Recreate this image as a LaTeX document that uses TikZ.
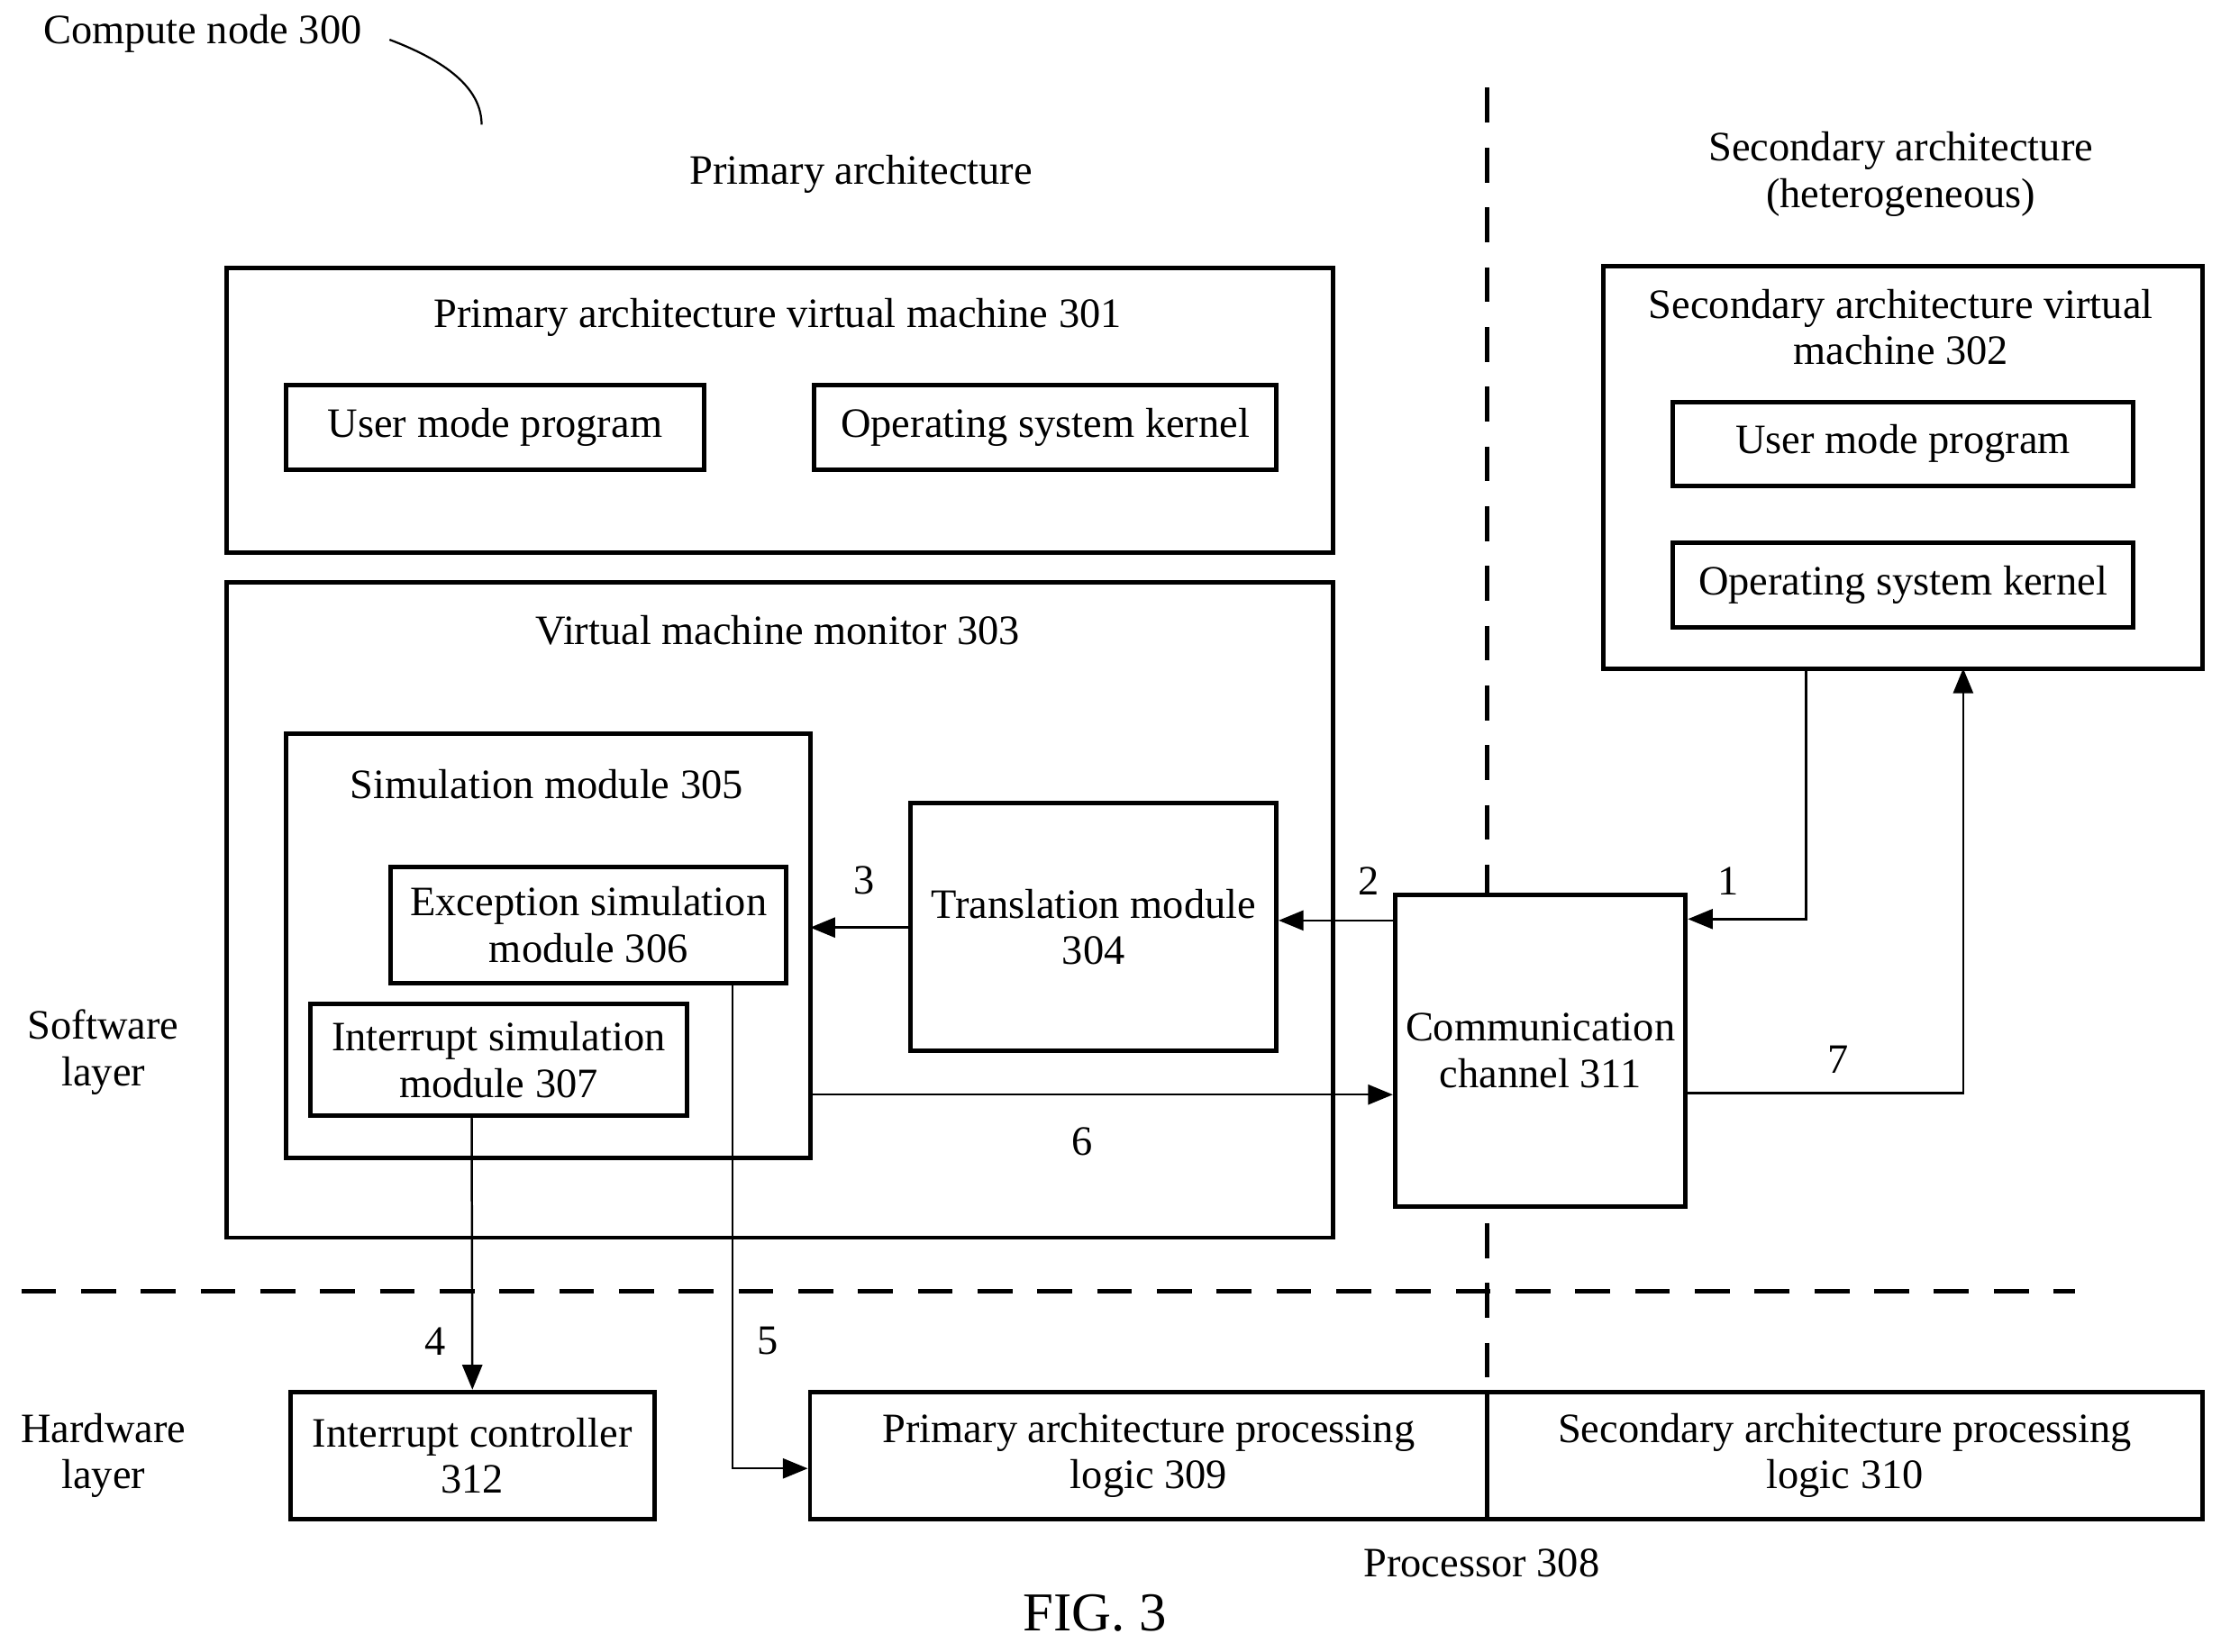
\documentclass[tikz,border=0pt]{standalone}
\usepackage{fontspec}
\setmainfont{Liberation Serif}
\usetikzlibrary{arrows.meta}
\begin{document}
\begin{tikzpicture}[x=0.01cm,y=-0.01cm,
  box/.style={draw,line width=0.9pt,fill=white},
  lab/.style={font=\fontsize{8.4}{9.3}\selectfont,align=center},
  con/.style={line width=0.45pt,-{Triangle[length=5pt,width=4pt]}},
  dashline/.style={line width=0.9pt,dash pattern=on 7pt off 5pt}]
\useasboundingbox (0,0) rectangle (1568,1166);
\node[lab] (cn) at (143,24) {Compute node 300};
\coordinate (c1) at (275,28); \coordinate (c2) at (340,88);
\draw[line width=0.4pt] (c1) .. controls (320,45) and (340,65) .. (c2);
\node[lab] (pa) at (608,123) {Primary architecture};
\node[lab] (sa) at (1342,123) {Secondary architecture\\(heterogeneous)};
\coordinate (v1) at (1050,62); \coordinate (v2) at (1050,983);
\draw[dashline] (v1) -- (v2);
\coordinate (h1) at (15,912); \coordinate (h2) at (1465,912);
\draw[dashline] (h1) -- (h2);
% boxes
\draw[box] (160,189) rectangle (941,390);
\node[lab] (t301) at (549,224) {Primary architecture virtual machine 301};
\node[box,lab,minimum width=2.95cm,minimum height=0.6cm] (u1) at (349.5,302) {User mode program};
\node[box,lab,minimum width=3.26cm,minimum height=0.6cm] (k1) at (738,302) {Operating system kernel};
\draw[box] (1132,188) rectangle (1555,472);
\node[lab] (t302) at (1342,231) {Secondary architecture virtual\\machine 302};
\node[box,lab,minimum width=3.25cm,minimum height=0.59cm] (u2) at (1343.5,313.5) {User mode program};
\node[box,lab,minimum width=3.25cm,minimum height=0.6cm] (k2) at (1343.5,413) {Operating system kernel};
\draw[box] (160,411) rectangle (941,874);
\node[lab] (t303) at (549,445) {Virtual machine monitor 303};
\draw[box] (202,518) rectangle (572,818);
\node[lab] (t305) at (386,554) {Simulation module 305};
\node[box,lab,minimum width=2.79cm,minimum height=0.82cm,inner sep=0pt] (m306) at (415.5,653) {Exception simulation\\module 306};
\node[box,lab,minimum width=2.66cm,minimum height=0.79cm,inner sep=0pt] (m307) at (352,748.5) {Interrupt simulation\\module 307};
\node[box,lab,minimum width=2.58cm,minimum height=1.75cm,inner sep=0pt] (m304) at (772,654.5) {Translation module\\304};
\node[box,lab,minimum width=2.05cm,minimum height=2.2cm,inner sep=0pt] (m311) at (1087.5,742) {Communication\\channel 311};
\node[box,lab,minimum width=2.57cm,minimum height=0.9cm,inner sep=0pt] (m312) at (333.5,1028) {Interrupt controller\\312};
\node[box,lab,minimum width=4.78cm,minimum height=0.9cm,inner sep=0pt] (m309) at (811,1028) {Primary architecture processing\\logic 309};
\node[box,lab,minimum width=5.05cm,minimum height=0.9cm,inner sep=0pt] (m310) at (1302.5,1028) {Secondary architecture processing\\logic 310};
\node[lab] (p308) at (1046,1104) {Processor 308};
\node[font=\fontsize{11}{13}\selectfont] (fig) at (773,1139) {FIG. 3};
\node[lab] (sl) at (73,743) {Software\\layer};
\node[lab] (hl) at (73,1028) {Hardware\\layer};
% connectors
\draw[con] (1275,472) |- (m311.east |- 0,649);
\draw[con] (m311.west |- 0,650) -- (m304.east |- 0,650);
\draw[con] (m304.west |- 0,655) -- (572,655);
\draw[con] (333,788) -- (m312.north);
\draw[con] (517,694) |- (m309.west |- 0,1037);
\draw[con] (572,773) -- (m311.west |- 0,773);
\draw[con] (m311.east |- 0,772) -| (1386,472);
\node[lab] (l1) at (1220,622) {1};
\node[lab] (l2) at (966,622) {2};
\node[lab] (l3) at (610,622) {3};
\node[lab] (l4) at (307,947) {4};
\node[lab] (l5) at (542,947) {5};
\node[lab] (l6) at (764,806) {6};
\node[lab] (l7) at (1298,748) {7};
\end{tikzpicture}
\end{document}
